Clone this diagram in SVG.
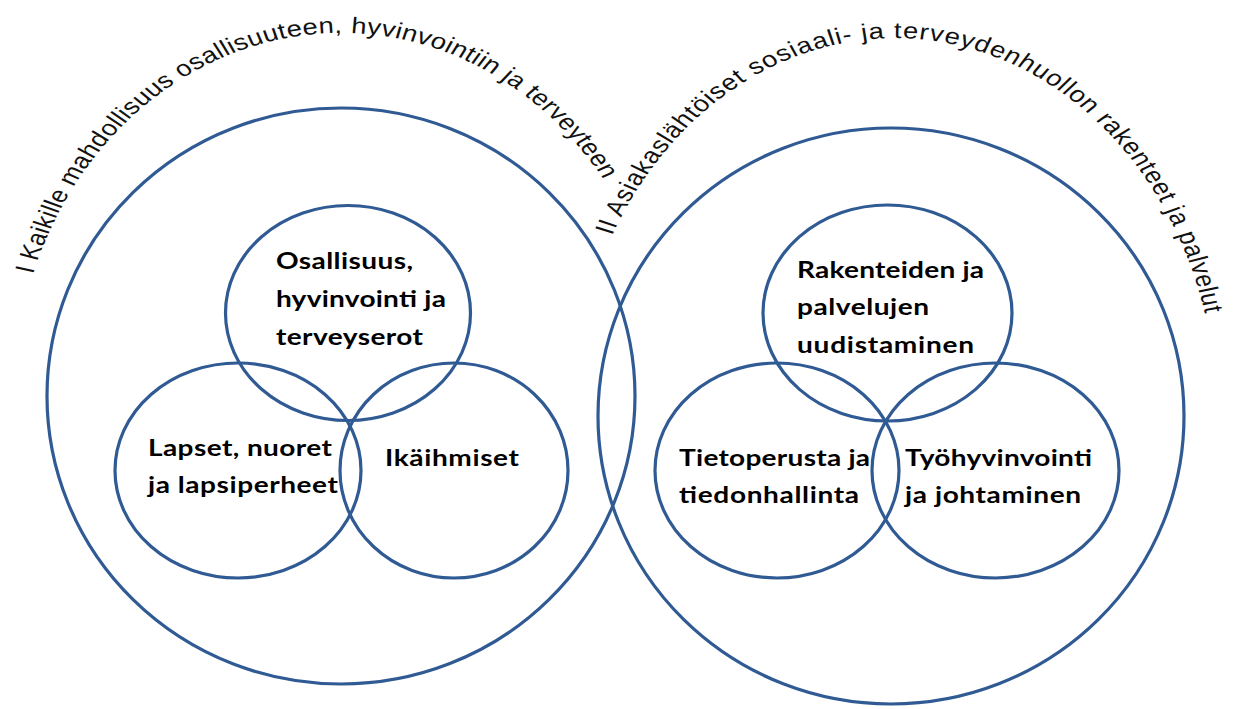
<svg xmlns="http://www.w3.org/2000/svg" width="1238" height="709" viewBox="0 0 1238 709">
<style>
.c{fill:none;stroke:#305A93;stroke-width:3.2}
.n{font-family:Lato,"Liberation Sans",sans-serif;font-weight:700;font-size:23px;fill:#000}
.a{font-family:"Liberation Sans",Arial,sans-serif;font-size:22.5px;fill:#111}
</style>
<defs>
<path id="arcL" d="M 27 274.2 A 268 363 0 0 1 547.5 396"/>
<path id="arcR" d="M 501.6 235.7 A 264 378 0 0 1 997.6 416"/>
</defs>
<rect width="1238" height="709" fill="#fff"/>
<g id="outer-left">
<ellipse class="c" cx="341" cy="396" rx="294" ry="288"/>
<g transform="scale(1.22 1)"><text class="a" letter-spacing="0.3"><textPath href="#arcL">I Kaikille mahdollisuus osallisuuteen, hyvinvointiin ja terveyteen</textPath></text></g>
</g>
<g id="outer-right">
<ellipse class="c" cx="891" cy="416" rx="293" ry="288"/>
<g transform="scale(1.22 1)"><text class="a" letter-spacing="0.73"><textPath href="#arcR">II Asiakaslähtöiset sosiaali- ja terveydenhuollon rakenteet ja palvelut</textPath></text></g>
</g>
<g id="osallisuus">
<ellipse class="c" cx="348" cy="313" rx="122.5" ry="107.5"/>
<g transform="scale(1.22 1)"><text class="n" lengthAdjust="spacing"><tspan x="226.2" y="269" textLength="112.3">Osallisuus,</tspan><tspan x="226.2" y="307" textLength="139.3">hyvinvointi ja</tspan><tspan x="226.2" y="345" textLength="120.5">terveyserot</tspan></text></g>
</g>
<g id="lapset">
<ellipse class="c" cx="238" cy="470.5" rx="123" ry="107.5"/>
<g transform="scale(1.22 1)"><text class="n" lengthAdjust="spacing"><tspan x="121.3" y="456" textLength="150.8">Lapset, nuoret</tspan><tspan x="121.3" y="493" textLength="155.7">ja lapsiperheet</tspan></text></g>
</g>
<g id="ikaihmiset">
<ellipse class="c" cx="454" cy="470.5" rx="114" ry="107.5"/>
<g transform="scale(1.22 1)"><text class="n" x="315.6" y="466" textLength="109.8" lengthAdjust="spacing">Ikäihmiset</text></g>
</g>
<g id="rakenteet">
<ellipse class="c" cx="887.5" cy="313" rx="124.5" ry="108"/>
<g transform="scale(1.22 1)"><text class="n" lengthAdjust="spacing"><tspan x="653.3" y="278" textLength="153.3">Rakenteiden ja</tspan><tspan x="653.3" y="315" textLength="108.2">palvelujen</tspan><tspan x="653.3" y="353" textLength="145.1">uudistaminen</tspan></text></g>
</g>
<g id="tietoperusta">
<ellipse class="c" cx="777" cy="470.5" rx="122" ry="107.5"/>
<g transform="scale(1.22 1)"><text class="n" lengthAdjust="spacing"><tspan x="556.6" y="466" textLength="156.6">Tietoperusta ja</tspan><tspan x="556.6" y="503" textLength="147.5">tiedonhallinta</tspan></text></g>
</g>
<g id="tyohyvinvointi">
<ellipse class="c" cx="995.5" cy="470.5" rx="123.5" ry="107.5"/>
<g transform="scale(1.22 1)"><text class="n" lengthAdjust="spacing"><tspan x="741.8" y="466" textLength="153.3">Työhyvinvointi</tspan><tspan x="741.8" y="503" textLength="144.3">ja johtaminen</tspan></text></g>
</g>
<g id="connectors"/>
</svg>
